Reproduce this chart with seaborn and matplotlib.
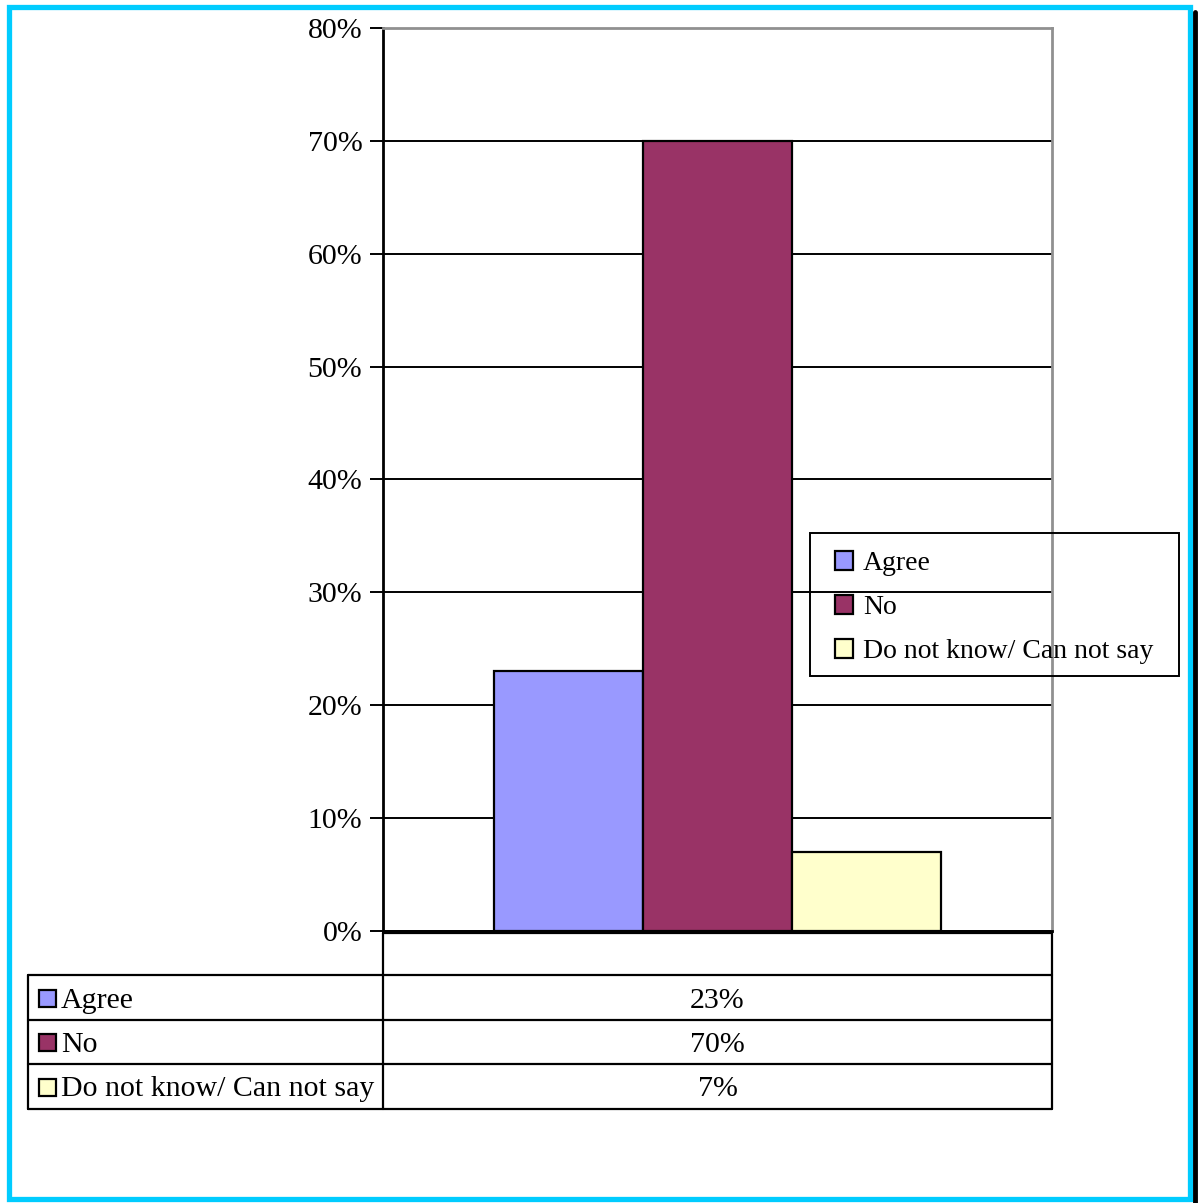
import matplotlib
matplotlib.use("Agg")
import matplotlib.pyplot as plt
import seaborn as sns
import pandas as pd
from matplotlib.patches import Rectangle
from matplotlib.lines import Line2D

categories = ["Agree", "No", "Do not know/ Can not say"]
values = [23, 70, 7]
value_labels = ["23%", "70%", "7%"]
colors = ["#9999FF", "#993366", "#FFFFCC"]
yticks = [0, 10, 20, 30, 40, 50, 60, 70, 80]

sns.set_theme(style="white")
plt.rcParams['font.family'] = ['Liberation Serif', 'DejaVu Serif']
plt.rcParams['text.color'] = 'black'
plt.rcParams['ytick.color'] = 'black'
plt.rcParams['ytick.labelcolor'] = 'black'

W, H = 1202, 1203
fig = plt.figure(figsize=(W / 100, H / 100), dpi=100)
fig.patch.set_facecolor("white")

def fx(px):
    return px / W

def fy(py):
    return 1 - py / H

ax_l, ax_r, ax_t, ax_b = 383, 1052, 28, 931
ax = fig.add_axes([fx(ax_l), fy(ax_b), fx(ax_r - ax_l), fy(ax_t) - fy(ax_b)])

df = pd.DataFrame({"grp": [""] * 3, "cat": categories, "val": values})
sns.barplot(data=df, x="grp", y="val", hue="cat", hue_order=categories,
            palette=colors, width=0.667, edgecolor="black", linewidth=1.6,
            saturation=1, ax=ax, legend=False)
ax.set_xlim(-0.5, 0.5)
ax.set_ylim(0, 80)
ax.set_yticks(yticks)
ax.set_yticklabels([f"{v}%" for v in yticks], fontsize=21.5, color="black")
ax.set_xticks([])
ax.set_xlabel("")
ax.set_ylabel("")
ax.yaxis.grid(True, color="black", linewidth=1.4)
ax.set_axisbelow(True)
ax.tick_params(axis="y", direction="out", length=9.4, width=1.4, color="black",
               pad=5.5, left=True)
for s in ["top", "right"]:
    ax.spines[s].set_color("#909090")
    ax.spines[s].set_linewidth(2)
ax.spines["left"].set_color("black")
ax.spines["left"].set_linewidth(2)
ax.spines["bottom"].set_color("black")
ax.spines["bottom"].set_linewidth(2)

# Legend (frame drawn separately)
handles = [Rectangle((0, 0), 1, 1, facecolor=c, edgecolor="black", linewidth=1.6)
           for c in colors]
leg = fig.legend(handles, categories, loc="upper left",
                 bbox_to_anchor=(fx(835), fy(551)), fontsize=20,
                 frameon=False,
                 handlelength=0.65, handleheight=0.65, handletextpad=0.36,
                 labelspacing=0.69, borderpad=0, borderaxespad=0,
                 labelcolor="black")
fig.add_artist(Rectangle((fx(810), fy(676)), fx(1179 - 810), fy(533) - fy(676),
                         facecolor="none", edgecolor="black", linewidth=1.4,
                         transform=fig.transFigure, zorder=5))

# Data table
rows_y = [933, 975, 1020, 1064, 1109]
col_x = [28, 383, 1052]
lw = 1.6
def hline(x0, x1, y):
    fig.add_artist(Line2D([fx(x0), fx(x1)], [fy(y), fy(y)], color="black", lw=lw))
def vline(x, y0, y1):
    fig.add_artist(Line2D([fx(x), fx(x)], [fy(y0), fy(y1)], color="black", lw=lw))

hline(col_x[1], col_x[2], rows_y[0])
for y in rows_y[1:]:
    hline(col_x[0], col_x[2], y)
vline(col_x[0], rows_y[1], rows_y[4])
vline(col_x[1], rows_y[0], rows_y[4])
vline(col_x[2], rows_y[0], rows_y[4])

for i, (cat, lab, c) in enumerate(zip(categories, value_labels, colors)):
    yc = (rows_y[i + 1] + rows_y[i + 2]) / 2
    fig.add_artist(Rectangle((fx(39), fy(yc + 9)), fx(17), fy(0) - fy(17),
                             facecolor=c, edgecolor="black", linewidth=1.6,
                             transform=fig.transFigure))
    fig.text(fx(61), fy(yc + 3), cat, fontsize=21.5, va="center", ha="left")
    fig.text(fx((col_x[1] + col_x[2]) / 2), fy(yc + 3), lab, fontsize=21.5,
             va="center", ha="center")

# Outer frame with shadow
fig.add_artist(Line2D([fx(1195), fx(1195)], [fy(12), fy(1203)], color="black", lw=3.5))
fig.add_artist(Rectangle((fx(9), fy(1199)), fx(1190 - 9), fy(7) - fy(1199),
                         facecolor="none", edgecolor="#00CCFF", linewidth=3.8,
                         transform=fig.transFigure))

fig.savefig("out.png", dpi=100)
